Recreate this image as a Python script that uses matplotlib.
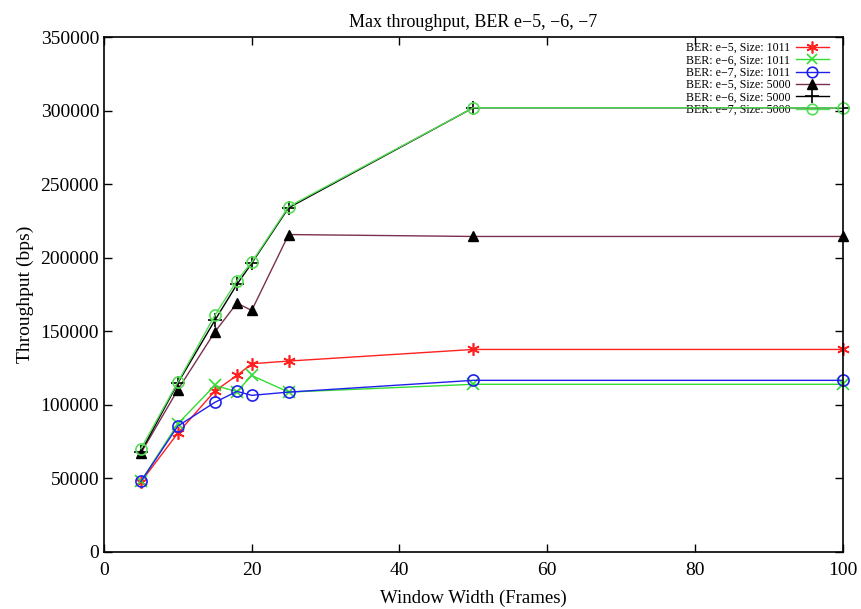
import matplotlib.pyplot as plt

plt.rcParams['font.family'] = ['Liberation Serif', 'DejaVu Serif']

window = [5, 10, 15, 18, 20, 25, 50, 100]

ber5_1011 = [47600, 80800, 109400, 120000, 128000, 129800, 137700, 137700]
ber6_1011 = [48000, 87200, 113200, 109000, 120000, 108700, 114000, 114000]
ber7_1011 = [48000, 85600, 101700, 109200, 106500, 108700, 116700, 116700]
ber5_5000 = [67300, 110300, 149500, 169200, 164200, 215800, 214500, 214500]
ber6_5000 = [68000, 114800, 157400, 181900, 196300, 234000, 302000, 302000]
ber7_5000 = [70200, 115500, 160800, 184400, 197000, 234800, 302000, 302000]

labels = ["BER: e\u22125, Size: 1011", "BER: e\u22126, Size: 1011", "BER: e\u22127, Size: 1011",
          "BER: e\u22125, Size: 5000", "BER: e\u22126, Size: 5000", "BER: e\u22127, Size: 5000"]

fig = plt.figure(figsize=(8.62, 6.09), dpi=100)
ax = fig.add_axes([0.1206, 0.0936, 0.8570, 0.8454])

ax.plot(window, ber5_1011, '-', color='#ff2020', marker=(6, 2, 0), markersize=9, mew=1.2, lw=1, label=labels[0], clip_on=False)
ax.plot(window, ber6_1011, '-', color='#33dd33', marker='x', markersize=8, mew=1.2, lw=1, label=labels[1], clip_on=False)
ax.plot(window, ber7_1011, '-', color='#2020ee', marker='o', markersize=8, mfc='none', mew=1.2, lw=1, label=labels[2], clip_on=False)
ax.plot(window, ber5_5000, '-', color='#7a3050', marker='^', markersize=7, mfc='black', mec='black', lw=1, label=labels[3], clip_on=False)
ax.plot(window, ber6_5000, '-', color='black', marker='+', markersize=10, mew=1.2, lw=1, label=labels[4], clip_on=False)
ax.plot(window, ber7_5000, '-', color='#55dd55', marker='o', markersize=8, mfc='none', mew=1.2, lw=1, label=labels[5], clip_on=False)

ax.set_xlim(0, 100)
ax.set_ylim(0, 350000)
ax.set_xticks(range(0, 101, 20))
ax.set_yticks(range(0, 350001, 50000))
ax.tick_params(direction='in', top=True, right=True, labelsize=14, length=6, width=1)
ax.tick_params(axis='x', pad=7)
for s in ax.spines.values():
    s.set_linewidth(1.2)

ax.set_xlabel("Window Width (Frames)", fontsize=13.5, labelpad=8)
ax.set_ylabel("Throughput (bps)", fontsize=14, labelpad=5)
ax.set_title("Max throughput, BER e\u22125, \u22126, \u22127", fontsize=13, pad=7)

leg = ax.legend(loc='upper right', bbox_to_anchor=(0.985, 0.995), borderaxespad=0,
                fontsize=8.6, markerfirst=False, frameon=False, handlelength=2.8,
                labelspacing=0.03, borderpad=0.2, handletextpad=0.45, markerscale=0.95)
leg.set_zorder(1)
for t in leg.get_texts():
    t.set_ha('right')

fig.savefig("out.png", dpi=100)
